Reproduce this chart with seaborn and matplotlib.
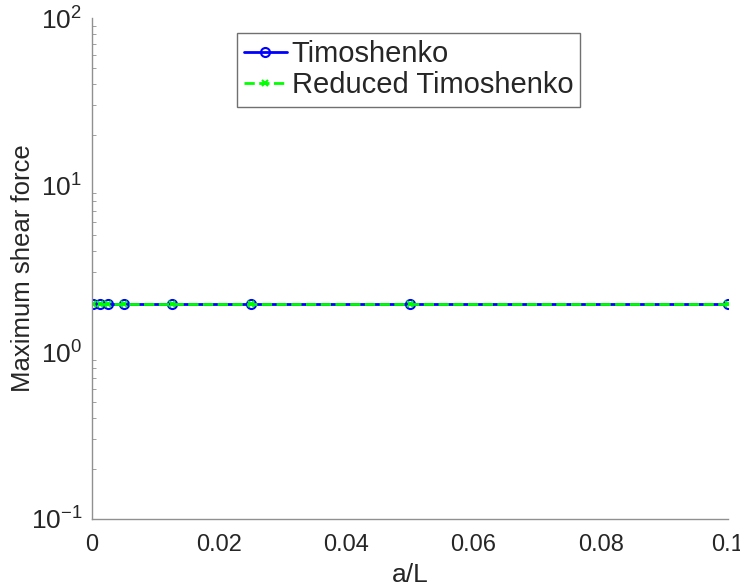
import matplotlib
matplotlib.use("Agg")
import matplotlib.pyplot as plt
import seaborn as sns
import numpy as np
import pandas as pd

# a/L values and maximum shear force
a_over_L = [0.1, 0.05, 0.025, 0.0125, 0.005, 0.0025, 0.00125, 0.0002]
shear_timoshenko = [1.95, 1.95, 1.95, 1.95, 1.95, 1.95, 1.95, 1.95]
shear_reduced = [1.95, 1.95, 1.95, 1.95, 1.95, 1.95, 1.95, 1.95]
x_ticks = [0, 0.02, 0.04, 0.06, 0.08, 0.1]
x_ticklabels = ["0", "0.02", "0.04", "0.06", "0.08", "0.1"]

sns.set_style("white")
plt.rcParams["font.family"] = ["Liberation Sans", "DejaVu Sans"]
plt.rcParams["mathtext.fontset"] = "custom"
plt.rcParams["mathtext.rm"] = "Liberation Sans"
plt.rcParams["mathtext.it"] = "Liberation Sans:italic"
plt.rcParams["mathtext.bf"] = "Liberation Sans:bold"

df_t = pd.DataFrame({"x": a_over_L, "y": shear_timoshenko})
df_r = pd.DataFrame({"x": a_over_L, "y": shear_reduced})

fig = plt.figure(figsize=(7.4, 5.88), dpi=100)
ax = fig.add_axes([92 / 740, 69 / 588, 636 / 740, 501 / 588])

sns.lineplot(data=df_t, x="x", y="y", ax=ax, color="#0000ff", linewidth=2,
             marker="o", markersize=6.5, markerfacecolor="none",
             markeredgecolor="#0000ff", markeredgewidth=1.5,
             label="Timoshenko", sort=False)
sns.lineplot(data=df_r, x="x", y="y", ax=ax, color="#00ff00", linewidth=2,
             linestyle="--", dashes=(3, 1.5), marker="x", markersize=5,
             markeredgecolor="#00ff00", markeredgewidth=1.5,
             label="Reduced Timoshenko", sort=False)

ax.set_yscale("log")
ax.set_ylim(0.1, 100)
ax.set_xlim(0, 0.1)
ax.set_xticks(x_ticks)
ax.set_xticklabels(x_ticklabels)

ax.set_xlabel("a/L", fontsize=19, color="#262626")
ax.set_ylabel("Maximum shear force", fontsize=18.5, color="#262626")
ax.xaxis.set_label_coords(0.5, -0.087)
ax.yaxis.set_label_coords(-0.09, 0.5)

for side in ["top", "right"]:
    ax.spines[side].set_visible(False)
for side in ["left", "bottom"]:
    ax.spines[side].set_color("#909090")
    ax.spines[side].set_linewidth(1)

ax.tick_params(axis="both", which="major", direction="in", length=6,
               color="#909090", labelcolor="#262626")
ax.tick_params(axis="x", which="major", labelsize=17, pad=11)
ax.tick_params(axis="y", which="major", labelsize=19, pad=7)
ax.tick_params(axis="y", which="minor", direction="in", length=3,
               color="#909090", left=True)
ax.tick_params(axis="x", which="minor", bottom=False)

leg = ax.legend(loc="upper center", bbox_to_anchor=(0.498, 0.970), fontsize=21,
                frameon=True, fancybox=False, framealpha=1, edgecolor="#707070",
                handlelength=1.45, handletextpad=0.17, borderpad=0.25,
                labelspacing=0.1, borderaxespad=0)
leg.get_frame().set_linewidth(1)

fig.savefig("out.png", dpi=100)
